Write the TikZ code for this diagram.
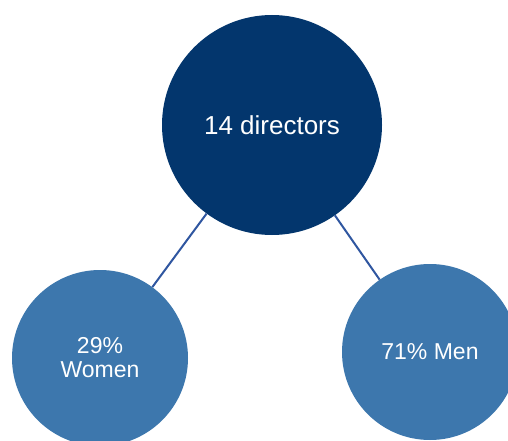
\documentclass[tikz,border=0pt]{standalone}
\usepackage{fontspec}
\setmainfont{Liberation Sans}
\definecolor{navy}{HTML}{03366D}
\definecolor{midblue}{HTML}{3D77AD}
\definecolor{linkblue}{HTML}{2F56A0}
\tikzset{
  bigdot/.style={circle, fill=navy, text=white, inner sep=0pt, minimum size=220pt,
                 font=\fontsize{26}{28}\selectfont},
  smalldot/.style={circle, fill=midblue, text=white, inner sep=0pt, minimum size=176pt,
                   align=center, font=\fontsize{23}{24}\selectfont},
  link/.style={draw=linkblue, line width=2pt}
}
\begin{document}
\begin{tikzpicture}[x=1pt, y=-1pt]
      \useasboundingbox (0, 0) rectangle (508, 441);
      \clip (0, 0) rectangle (508, 441);
      \node (total) [bigdot] at (272, 125) {14 directors};
      \node (women) [smalldot] at (100, 358) {29\%\\Women};
      \node (men) [smalldot] at (430, 352) {71\% Men};
      \draw[link] (total) -- (women)
                  (total) -- (men);
\end{tikzpicture}
\end{document}
